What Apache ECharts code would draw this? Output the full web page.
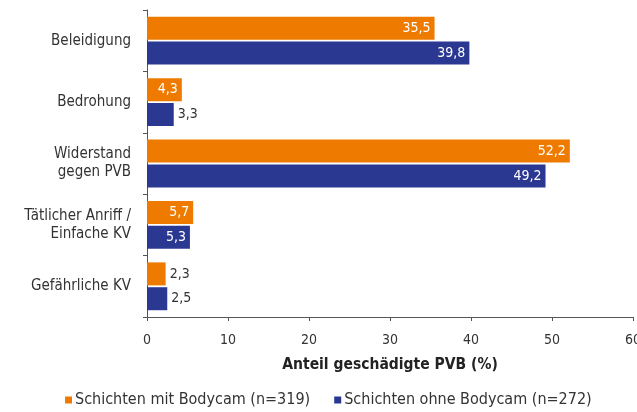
<!DOCTYPE html>
<html>
<head>
    <meta charset="utf-8">
    <title>Anteil geschädigte PVB</title>
    <script src="https://cdn.jsdelivr.net/npm/echarts@6/dist/echarts.min.js"></script>
</head>
<body style="margin:0">
<div id="main" style="width: 637px;height:412px;"></div>
<script type="text/javascript">

    /* Daten ===================== */
    var kategorien = ['Beleidigung', 'Bedrohung', 'Widerstand\ngegen PVB', 'Tätlicher Anriff /\nEinfache KV', 'Gefährliche KV'];
    var mitBodycam = [35.5, 4.3, 52.2, 5.7, 2.3];
    var ohneBodycam = [39.8, 3.3, 49.2, 5.3, 2.5];
    var xTicks = [0, 10, 20, 30, 40, 50, 60];

    var schrift = 'DejaVu Sans Condensed';

    // kleine Balken bekommen das Label außen
    function mitLabel(werte) {
        return werte.map(function (v) {
            var innen = v >= 4;
            return {
                value: v,
                label: {
                    position: innen ? 'insideRight' : 'right',
                    color: innen ? '#fff' : '#333'
                }
            };
        });
    }

    function komma(p) {
        return String(p.value).replace('.', ',');
    }

    var myChart = echarts.init(document.getElementById('main'));

    myChart.setOption({
        animation: false,
        textStyle: {fontFamily: schrift},
        grid: {left: 147, right: 4, top: 10, bottom: 95, containLabel: false, outerBoundsMode: 'none'},
        legend: {
            top: 387,
            left: 60,
            itemWidth: 7,
            itemHeight: 7,
            itemGap: 24,
            icon: 'rect',
            textStyle: {fontSize: 16, color: '#333', fontFamily: schrift, padding: [0, 0, 0, -2]}
        },
        xAxis: {
            type: 'value',
            min: xTicks[0],
            max: xTicks[xTicks.length - 1],
            interval: 10,
            name: 'Anteil geschädigte PVB (%)',
            nameLocation: 'middle',
            nameGap: 40,
            nameTextStyle: {fontSize: 15.5, fontWeight: 'bold', color: '#222', fontFamily: schrift},
            axisLine: {show: true, lineStyle: {color: '#555'}},
            axisTick: {show: true, length: 4, lineStyle: {color: '#555'}},
            axisLabel: {fontSize: 14, color: '#333', margin: 16, fontFamily: schrift, hideOverlap: false},
            splitLine: {show: false}
        },
        yAxis: {
            type: 'category',
            inverse: true,
            data: kategorien,
            axisLine: {show: true, lineStyle: {color: '#555'}},
            axisTick: {show: true, length: 4, lineStyle: {color: '#555'}},
            axisLabel: {fontSize: 15, color: '#333', margin: 16, lineHeight: 18, align: 'right', fontFamily: schrift}
        },
        series: [
            {
                name: 'Schichten mit Bodycam (n=319)',
                type: 'bar',
                data: mitLabel(mitBodycam),
                barWidth: 23,
                barGap: '8%',
                itemStyle: {color: '#EE7B00'},
                label: {show: true, fontSize: 14, fontFamily: schrift, distance: 4, formatter: komma}
            },
            {
                name: 'Schichten ohne Bodycam (n=272)',
                type: 'bar',
                data: mitLabel(ohneBodycam),
                barWidth: 23,
                itemStyle: {color: '#2B3892'},
                label: {show: true, fontSize: 14, fontFamily: schrift, distance: 4, formatter: komma}
            }
        ]
    });

</script>
</body>
</html>
